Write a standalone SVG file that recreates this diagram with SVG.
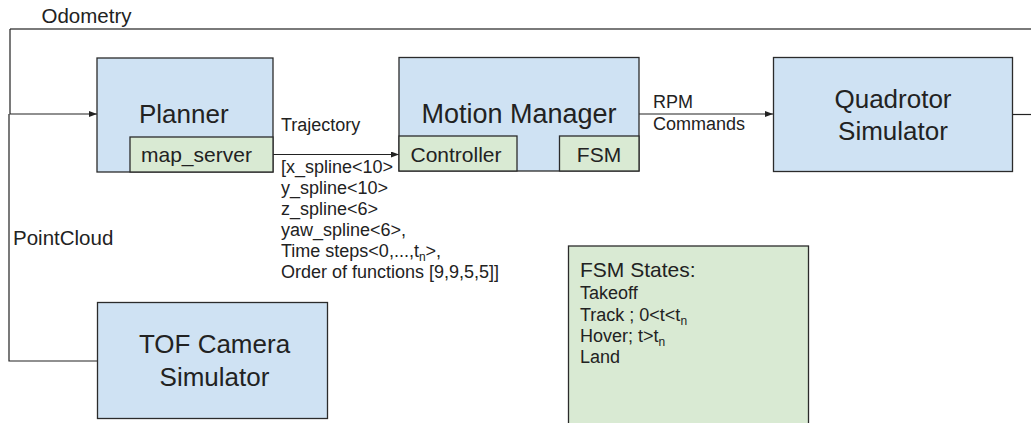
<svg xmlns="http://www.w3.org/2000/svg" width="1031" height="423" viewBox="0 0 1031 423">
<style>
text{font-family:"Liberation Sans",Arial,sans-serif;fill:#222}
.blue{fill:#cfe2f3;stroke:#2b2b2b;stroke-width:1.3}
.green{fill:#d9ead3;stroke:#2b2b2b;stroke-width:1.3}
.title{font-size:26px}
.sub{font-size:21px}
.lbl{font-size:18px}
.edge{fill:none;stroke:#222;stroke-width:1.2}
</style>
<defs>
<marker id="ah" markerWidth="8" markerHeight="6" refX="8" refY="3" orient="auto" markerUnits="userSpaceOnUse">
<path d="M0,0 L8,3 L0,6 Z" fill="#222"/>
</marker>
</defs>
<rect width="1031" height="423" fill="#fff"/>
<g id="connectors">
<path class="edge" d="M10,29 L1031,29" style="stroke:#7a7a7a;stroke-width:2"/>
<path class="edge" d="M10,29 L10,114 L97,114" marker-end="url(#ah)"/>
<path class="edge" d="M98,361 L9,361 L9,114"/>
<path class="edge" d="M273,154.5 L399,154.5" marker-end="url(#ah)"/>
<path class="edge" d="M639,114 L773,114" marker-end="url(#ah)"/>
<path class="edge" d="M1013,114.5 L1031,114.5"/>
<text x="41.5" y="23" style="font-size:20.5px">Odometry</text>
<text x="13" y="245" style="font-size:20.5px">PointCloud</text>
<text x="281" y="131" class="lbl">Trajectory</text>
<text class="lbl" x="281">
<tspan x="281" y="173">[x_spline&lt;10&gt;</tspan>
<tspan x="281" y="194">y_spline&lt;10&gt;</tspan>
<tspan x="281" y="215">z_spline&lt;6&gt;</tspan>
<tspan x="281" y="236">yaw_spline&lt;6&gt;,</tspan>
<tspan x="281" y="257">Time steps&lt;0,...,t</tspan><tspan dy="4" style="font-size:12px">n</tspan><tspan dy="-4">&gt;,</tspan>
<tspan x="281" y="278">Order of functions [9,9,5,5]]</tspan>
</text>
<text x="653" y="108" class="lbl">RPM</text>
<text x="653" y="130" class="lbl">Commands</text>
</g>
<g id="planner">
<rect class="blue" x="97" y="58" width="176" height="114"/>
<text x="139" y="123" class="title">Planner</text>
</g>
<g id="map_server">
<rect class="green" x="130" y="137" width="143" height="35"/>
<text x="141" y="162" class="sub">map_server</text>
</g>
<g id="motion_manager">
<rect class="blue" x="399" y="57.5" width="240" height="113.5"/>
<text x="519" y="123" class="title" text-anchor="middle" style="font-size:27px">Motion Manager</text>
</g>
<g id="controller">
<rect class="green" x="399" y="136" width="118" height="35"/>
<text x="410.5" y="161.5" class="sub">Controller</text>
</g>
<g id="fsm">
<rect class="green" x="559.5" y="136" width="79.5" height="35"/>
<text x="599" y="161.5" class="sub" text-anchor="middle">FSM</text>
</g>
<g id="quadrotor">
<rect class="blue" x="773.5" y="57.5" width="239" height="114"/>
<text x="893" y="108" class="title" text-anchor="middle">Quadrotor</text>
<text x="893" y="140" class="title" text-anchor="middle">Simulator</text>
</g>
<g id="tof_camera">
<rect class="blue" x="97.5" y="302.5" width="230" height="116"/>
<text x="214.5" y="353" class="title" text-anchor="middle">TOF Camera</text>
<text x="214.5" y="386" class="title" text-anchor="middle">Simulator</text>
</g>
<g id="fsm_states">
<rect class="green" x="568.5" y="246" width="240" height="190"/>
<text x="580" y="277" style="font-size:21px">FSM States:</text>
<text x="580" y="299" class="lbl">Takeoff</text>
<text x="580" y="320.5" class="lbl">Track ; 0&lt;t&lt;t<tspan dy="4" style="font-size:12px">n</tspan></text>
<text x="580" y="341.5" class="lbl">Hover; t&gt;t<tspan dy="4" style="font-size:12px">n</tspan></text>
<text x="580" y="363" class="lbl">Land</text>
</g>
</svg>
